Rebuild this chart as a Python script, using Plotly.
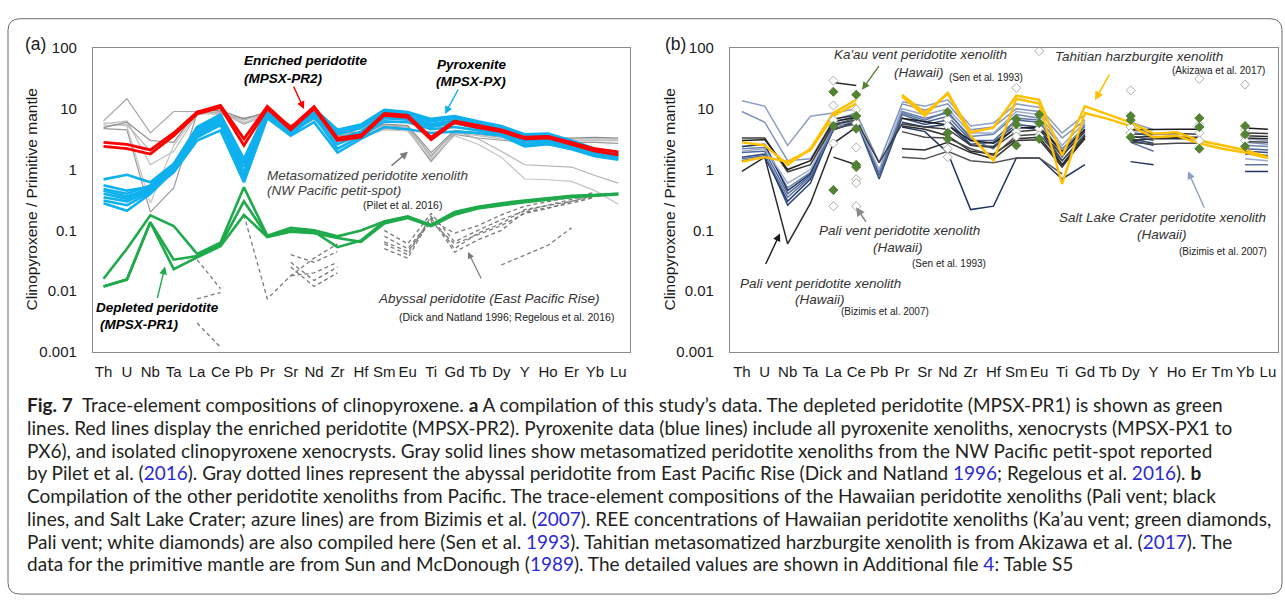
import plotly.graph_objects as go

W, H = 1285, 605


def px(x):
    return x / W


def py(y):
    return 1 - y / H


# ---------------- categories ----------------
ELEM_A = ["Th", "U", "Nb", "Ta", "La", "Ce", "Pb", "Pr", "Sr", "Nd", "Zr", "Hf", "Sm", "Eu",
          "Ti", "Gd", "Tb", "Dy", "Y", "Ho", "Er", "Yb", "Lu"]
ELEM_B = ["Th", "U", "Nb", "Ta", "La", "Ce", "Pb", "Pr", "Sr", "Nd", "Zr", "Hf", "Sm", "Eu",
          "Ti", "Gd", "Tb", "Dy", "Y", "Ho", "Er", "Tm", "Yb", "Lu"]
TICK_VALS = [0.001, 0.01, 0.1, 1, 10, 100]
TICK_TEXT = ["0.001", "0.01", "0.1", "1", "10", "100"]

# ---------------- panel (a) ----------------
N = None
enriched = [
    [2.8, 2.6, 2.1, 4.0, 8.8, 11.3, 3.2, 10.9, 4.9, 10.8, 3.3, 3.7, 8.4, 7.8, 3.4, 6.3, 5.3, 4.5, 3.4, 3.5, 2.8, 2.2, 1.95],
    [2.4, 2.2, 1.8, 3.6, 8.2, 10.5, 2.5, 10.0, 4.5, 10.0, 3.0, 3.4, 7.8, 7.2, 3.1, 5.9, 4.9, 4.2, 3.2, 3.3, 2.6, 2.0, 1.75],
]
pyroxenite = [
    [0.69, 0.82, 0.62, 1.25, 5.0, 8.0, 1.5, 9.8, 4.7, 10.0, 4.5, 5.5, 9.6, 8.8, 6.8, 7.6, 6.2, 5.2, 3.8, 3.9, 3.0, 2.2, 1.9],
    [0.48, 0.40, 0.55, 1.15, 4.6, 7.0, 1.1, 9.0, 4.4, 9.0, 3.8, 4.8, 8.8, 8.2, 6.2, 7.0, 5.7, 4.8, 3.5, 3.6, 2.8, 2.1, 1.8],
    [0.40, 0.33, 0.48, 1.05, 4.0, 6.2, 0.9, 8.5, 4.2, 8.2, 3.2, 4.2, 8.0, 7.5, 5.6, 6.4, 5.2, 4.4, 3.2, 3.3, 2.6, 1.95, 1.7],
    [0.28, 0.21, 0.40, 0.95, 3.4, 5.4, 0.75, 7.8, 4.0, 7.2, 2.6, 3.8, 7.0, 6.6, 5.0, 5.8, 4.8, 4.1, 2.9, 3.0, 2.4, 1.8, 1.55],
    [0.45, 0.36, 0.50, 1.2, 4.4, 6.6, 0.65, 8.0, 3.8, 7.6, 2.2, 3.5, 6.2, 6.0, 4.6, 5.0, 4.4, 3.8, 2.6, 2.8, 2.3, 1.75, 1.5],
    [0.35, 0.30, 0.45, 0.9, 3.0, 4.4, 0.62, 7.0, 3.6, 6.0, 1.9, 3.2, 5.0, 4.6, 4.0, 4.2, 4.0, 3.6, 2.4, 2.6, 2.15, 1.65, 1.45],
    [0.55, 0.45, 0.52, 1.1, 4.8, 7.5, 1.3, 9.4, 4.6, 9.5, 4.2, 5.2, 9.2, 8.5, 6.5, 7.2, 5.9, 5.0, 3.6, 3.7, 2.9, 2.15, 1.85],
    [0.31, 0.26, 0.42, 1.0, 3.7, 5.9, 0.85, 8.2, 4.1, 8.0, 3.0, 4.0, 7.6, 7.0, 5.3, 6.1, 5.0, 4.3, 3.0, 3.1, 2.5, 1.85, 1.6],
]
metasomatized = [
    [6.3, 14.6, 4.0, 9.0, 9.0, 8.0, 7.0, 8.5, 5.2, 7.6, 4.0, 4.0, 5.2, 5.0, 1.7, 4.2, 3.8, 3.4, 3.2, 3.3, 3.2, 3.2, 3.2],
    [5.6, 6.3, 1.2, 2.0, 8.0, 9.0, 6.0, 8.0, 5.0, 7.0, 3.8, 3.8, 5.0, 4.8, 1.4, 4.0, 3.6, 3.2, 3.0, 3.1, 3.0, 3.0, 3.0],
    [4.7, 4.5, 0.2, 0.5, 8.5, 8.8, 5.6, 7.8, 4.6, 6.8, 3.6, 3.6, 4.7, 4.5, 1.35, 3.8, 3.3, 3.0, 2.8, 2.9, 2.8, 2.8, 2.7],
    [5.2, 5.5, 2.0, 3.5, 8.8, 8.6, 6.5, 8.2, 4.9, 7.3, 3.9, 3.9, 5.4, 5.2, 1.6, 4.3, 3.2, 2.0, 1.2, 1.15, 1.1, 0.8, 0.6],
    [5.9, 5.2, 0.28, 2.5, 8.2, 8.3, 5.8, 7.6, 4.4, 6.5, 3.4, 3.4, 4.5, 4.3, 1.5, 3.6, 2.6, 1.6, 0.7, 0.68, 0.64, 0.45, 0.27],
    [4.9, 6.0, 3.0, 2.8, 9.2, 9.4, 6.8, 8.8, 5.4, 7.8, 4.2, 4.1, 5.6, 5.3, 1.9, 4.4, 4.0, 3.6, 3.3, 3.4, 3.3, 3.4, 3.3],
]
depleted = [
    [0.016, 0.05, 0.177, 0.118, 0.041, 0.063, 0.51, 0.082, 0.11, 0.10, 0.08, 0.10, 0.14, 0.17, 0.123, 0.2, 0.245, 0.28, 0.31, 0.34, 0.37, 0.38, 0.40],
    [0.012, 0.0157, 0.137, 0.033, 0.038, 0.058, 0.30, 0.08, 0.10, 0.095, 0.053, 0.068, 0.14, 0.165, 0.12, 0.19, 0.24, 0.27, 0.30, 0.33, 0.36, 0.38, 0.40],
    [0.012, 0.0155, 0.135, 0.023, 0.036, 0.055, 0.18, 0.078, 0.095, 0.09, 0.075, 0.065, 0.13, 0.16, 0.118, 0.18, 0.23, 0.26, 0.29, 0.32, 0.35, 0.37, 0.39],
]
abyssal = [
    [N, N, N, N, 0.033, 0.011, N, N, N, N, N, N, N, N, N, N, N, N, N, N, N, N, N],
    [N, N, N, N, 0.0075, 0.0095, N, N, N, N, N, N, N, N, N, N, N, N, N, N, N, N, N],
    [N, N, N, N, 0.003, 0.0012, N, N, N, N, N, N, N, N, N, N, N, N, N, N, N, N, N],
    [N, N, N, N, N, N, 0.18, 0.0075, 0.018, 0.035, 0.06, N, 0.06, 0.04, 0.17, 0.05, 0.09, 0.13, 0.22, 0.26, 0.30, 0.38, N],
    [N, N, N, N, N, N, N, N, 0.04, 0.03, 0.045, N, 0.08, 0.05, 0.15, 0.09, 0.12, 0.18, 0.25, 0.30, 0.35, 0.42, N],
    [N, N, N, N, N, N, N, N, 0.025, 0.012, 0.02, N, 0.05, 0.035, 0.16, 0.044, 0.07, 0.10, 0.20, 0.24, 0.28, 0.35, N],
    [N, N, N, N, N, N, N, N, 0.018, 0.02, 0.03, N, 0.10, 0.06, 0.19, 0.065, 0.10, 0.15, 0.21, 0.26, 0.32, 0.40, N],
    [N, N, N, N, N, N, N, N, 0.03, 0.015, 0.025, N, 0.065, 0.045, 0.14, 0.06, 0.085, 0.12, 0.19, 0.23, 0.30, 0.36, N],
    [N, N, N, N, N, N, N, N, N, N, N, N, N, N, N, N, N, 0.027, 0.039, 0.057, 0.11, N, N],
]

# ---------------- panel (b) ----------------
tahiti = [
    [2.8, 2.5, 1.2, 2.2, 8.5, 14.0, N, 15.8, 7.6, 18.3, 4.1, 4.9, 16.4, 14.0, 1.7, 11.0, 8.1, 5.9, 3.9, 4.1, 3.0, 2.5, 2.1, 1.6],
    [1.35, 1.6, 1.35, 2.1, 7.6, 12.2, N, 17.0, 8.5, 17.6, 3.6, 1.4, 14.6, 12.2, 0.58, 8.5, 6.8, 5.2, 3.4, 3.6, 2.7, 2.2, 1.9, 1.55],
]
pali_bizimis = [
    [0.93, 1.6, 0.06, 0.28, 2.7, 5.0, N, 5.2, 4.6, 3.6, 2.0, 1.8, 3.2, 3.4, 1.2, 3.2, N, 3.4, 3.5, 3.4, 3.4, N, 3.6, 3.5],
    [3.3, 3.3, 0.92, 1.2, 5.5, 6.5, 1.3, 5.6, 5.0, 4.6, 2.5, 2.3, 4.2, 4.5, 1.7, 4.2, N, 3.8, 3.9, 3.9, 3.8, N, 4.0, 3.9],
    [3.0, 3.1, 1.0, 1.4, 6.2, 7.2, N, 7.0, 6.2, 5.4, 3.0, 2.7, 4.8, 5.0, 2.0, 4.6, N, 4.5, 4.6, 4.6, 4.6, N, 4.8, 4.6],
    [N, N, N, N, 4.5, 6.0, N, 4.2, 3.4, 3.3, 2.2, 1.7, 3.6, 3.8, 1.4, 3.6, N, 2.8, 2.6, 2.7, 2.7, N, 2.9, 2.8],
    [N, N, N, N, 6.8, 7.8, N, 2.2, 2.1, 2.8, 1.9, 1.5, 3.0, 3.1, 1.1, 3.4, N, 3.0, 3.2, 3.2, 3.2, N, 3.3, 3.2],
    [N, N, N, N, N, N, N, 1.6, 1.5, 2.0, 1.4, 1.3, 1.55, 1.55, 0.85, N, N, N, N, N, N, N, N, N],
    [N, N, N, N, 27.0, 24.0, N, N, N, N, N, N, N, N, N, N, N, N, N, N, N, N, N, N],
    [N, N, N, N, 1.6, 1.2, N, N, N, N, N, N, N, N, N, N, N, N, N, N, N, N, N, N],
]
salt_lake = [
    [13.5, 11.0, 2.5, 7.5, 8.5, 10.0, N, 13.0, 11.0, 14.0, 5.2, 5.8, 12.0, 10.5, 4.0, 8.0, N, 6.0, 4.5, N, 4.2, N, 3.2, 3.0],
    [9.0, 6.0, 1.4, 1.5, 6.5, 8.5, 1.3, 12.0, 9.5, 12.0, 4.5, 5.0, 10.0, 9.0, 3.3, 6.5, N, 5.0, 3.8, N, 3.5, N, 2.8, 2.6],
    [2.2, 2.3, 0.5, 0.9, 6.0, 7.5, 0.9, 9.0, 7.0, 8.5, 3.5, 3.8, 8.0, 7.0, 2.2, 5.0, N, 4.2, 3.4, N, 3.2, N, 2.5, 2.4],
    [1.9, 2.0, 0.4, 0.8, 5.5, 7.0, 0.8, 8.0, 6.0, 7.5, 3.0, 3.0, 6.5, 6.0, 1.9, 4.5, N, 3.6, 3.0, N, 2.8, N, 2.2, 2.1],
    [1.6, 1.8, 0.26, 0.6, 5.0, 6.2, 0.7, 7.0, 5.5, 6.5, 2.6, 2.8, 5.5, 5.0, 1.4, 3.8, N, 3.2, 2.7, N, 2.6, N, 2.0, 1.9],
    [1.4, 1.6, 0.3, 0.7, 4.5, 6.0, N, 6.0, 5.0, 5.5, 2.5, 2.4, 5.0, 4.6, 1.2, 3.6, N, 3.0, 2.5, N, 2.5, N, 1.8, 1.7],
    [2.4, 2.6, 0.45, 0.85, 5.3, 5.8, N, 5.0, 4.2, 1.9, 0.22, 0.25, 1.55, 1.55, 0.7, 1.2, N, 1.35, 1.2, N, 1.1, N, 0.93, 0.93],
    [2.0, 2.2, 0.6, 1.0, 5.0, 6.5, 1.0, 10.0, 8.0, 10.0, 4.0, 4.0, 9.0, 8.0, 2.5, 6.0, N, 4.5, 3.8, N, 3.6, N, 1.5, 1.4],
    [1.5, 1.7, 0.35, 0.75, 4.8, 5.5, N, 8.5, 6.5, 9.0, 3.2, 2.2, 7.0, 6.5, 1.6, 5.5, N, 2.8, 2.0, N, 1.7, N, 1.2, 1.2],
]
salt_lake_colors = ["#8ea0c4", "#7f93bb", "#6c82b0", "#4f6796", "#344d7e", "#223a6a", "#1f3560", "#9aaacb", "#5d74a3"]
pali_colors = ["#2b2b2b", "#3c3c3c", "#1e1e1e", "#4a4a4a", "#303030", "#555555", "#2a2a2a", "#2a2a2a"]

kaau_elem = ["La", "La", "La", "Ce", "Ce", "Ce", "Ce", "Ce", "Nd", "Nd", "Nd", "Sm", "Sm", "Sm",
             "Eu", "Eu", "Eu", "Dy", "Dy", "Dy", "Er", "Er", "Er", "Yb", "Yb", "Yb"]
kaau_val = [19, 5.2, 0.46, 17, 7.6, 4.7, 1.2, 1.1, 8.8, 4.0, 3.2, 6.7, 5.5, 2.5,
            8.0, 5.8, 3.2, 7.6, 6.5, 3.4, 7.0, 5.0, 2.2, 5.2, 3.8, 2.4]
pali_sen_elem = ["La", "La", "La", "La", "La", "Ce", "Ce", "Ce", "Ce", "Ce", "Ce", "Nd", "Nd", "Nd", "Nd",
                 "Sm", "Sm", "Sm", "Sm", "Eu", "Eu", "Eu", "Dy", "Dy", "Dy", "Er", "Er", "Er", "Er",
                 "Yb", "Yb", "Yb", "Yb"]
pali_sen_val = [29, 11.3, 6.5, 2.7, 0.25, 9.7, 5.8, 2.3, 0.69, 0.6, 0.25, 6.7, 5.2, 2.2, 1.6,
                22, 5.0, 4.2, 3.5, 89, 4.7, 3.6, 20, 5.0, 4.0, 31, 5.5, 4.0, 3.0,
                25, 4.5, 3.6, 3.0]

# ---------------- figure ----------------
fig = go.Figure()


def add_lines(series, elems, color, width, xa, ya, dash="solid"):
    for i, s in enumerate(series):
        c = color[i % len(color)] if isinstance(color, list) else color
        fig.add_trace(go.Scatter(x=elems, y=s, mode="lines", xaxis=xa, yaxis=ya,
                                 line=dict(color=c, width=width, dash=dash),
                                 connectgaps=False, hoverinfo="skip", showlegend=False))


# panel a
add_lines(abyssal, ELEM_A, "#7a7a7a", 1.3, "x", "y", dash="4px,3px")
add_lines(metasomatized, ELEM_A, ["#a6a6a6", "#bdbdbd", "#9a9a9a", "#b3b3b3", "#c4c4c4", "#8f8f8f"], 1.2, "x", "y")
add_lines(depleted, ELEM_A, "#1faa4b", 2.6, "x", "y")
add_lines(pyroxenite, ELEM_A, "#0fb0ee", 2.6, "x", "y")
add_lines(enriched, ELEM_A, "#ff0000", 2.8, "x", "y")

# panel b
add_lines(salt_lake, ELEM_B, salt_lake_colors, 1.5, "x2", "y2")
add_lines(pali_bizimis, ELEM_B, pali_colors, 1.5, "x2", "y2")
add_lines(tahiti, ELEM_B, "#ffc000", 2.4, "x2", "y2")
fig.add_trace(go.Scatter(x=pali_sen_elem, y=pali_sen_val, mode="markers", xaxis="x2", yaxis="y2",
                         marker=dict(symbol="diamond", size=7, color="white",
                                     line=dict(color="#a9b0a4", width=1)),
                         hoverinfo="skip", showlegend=False))
fig.add_trace(go.Scatter(x=kaau_elem, y=kaau_val, mode="markers", xaxis="x2", yaxis="y2",
                         marker=dict(symbol="diamond", size=7, color="#548235",
                                     line=dict(color="#548235", width=1)),
                         hoverinfo="skip", showlegend=False))

AX_FONT = dict(family="Liberation Sans, Arial, sans-serif", size=15, color="#1a1a1a")
common_x = dict(type="category", categoryorder="array", showline=True, mirror=True,
                linecolor="#8c8c8c", linewidth=1.3, showgrid=False, zeroline=False,
                ticks="", tickfont=AX_FONT, ticklabelstandoff=6)
common_y = dict(type="log", range=[-3, 2], tickvals=TICK_VALS, ticktext=TICK_TEXT,
                showline=True, mirror=True, linecolor="#8c8c8c", linewidth=1.3,
                showgrid=False, zeroline=False, ticks="", tickfont=AX_FONT,
                ticklabelstandoff=12)

fig.update_layout(
    width=W, height=H, margin=dict(l=0, r=0, t=0, b=0),
    paper_bgcolor="white", plot_bgcolor="white", showlegend=False,
    xaxis=dict(common_x, domain=[px(93), px(630)], anchor="y", categoryarray=ELEM_A,
               range=[-0.45, 22.5]),
    yaxis=dict(common_y, domain=[py(353), py(40)], anchor="x"),
    xaxis2=dict(common_x, domain=[px(730), px(1278)], anchor="y2", categoryarray=ELEM_B,
                range=[-0.52, 23.44]),
    yaxis2=dict(common_y, domain=[py(353), py(40)], anchor="x2"),
)

ann = []
SANS = "Liberation Sans, Arial, sans-serif"


def label(text, x, y, size=13.5, color="#000000", anchor="center"):
    ann.append(dict(text=text, x=px(x), y=py(y), xref="paper", yref="paper",
                    xanchor=anchor, yanchor="middle", showarrow=False,
                    font=dict(family=SANS, size=size, color=color)))


def arrow(tail, tip, color, width=1.4):
    ann.append(dict(text="", x=px(tip[0]), y=py(tip[1]), xref="paper", yref="paper",
                    ax=tail[0] - tip[0], ay=tail[1] - tip[1], showarrow=True,
                    arrowhead=2, arrowsize=1.1, arrowwidth=width, arrowcolor=color))


# panel labels and y titles
label("(a)", 35, 36, size=17.5, color="#1a1a1a")
label("(b)", 675, 36, size=17.5, color="#1a1a1a")
for xt in (31, 669):
    ann.append(dict(text="Clinopyroxene / Primitive mantle", x=px(xt), y=py(196),
                    xref="paper", yref="paper", textangle=-90, showarrow=False,
                    xanchor="center", yanchor="middle",
                    font=dict(family=SANS, size=15.5, color="#1a1a1a")))

# panel a annotations
label("<b><i>Enriched peridotite</i></b>", 242, 53, anchor="left")
label("<b><i>(MPSX-PR2)</i></b>", 242, 71, anchor="left")
arrow((293, 79), (304, 103), "#ff0000")
label("<b><i>Pyroxenite</i></b>", 472, 57)
label("<b><i>(MPSX-PX)</i></b>", 471, 75)
arrow((459, 82), (445, 108), "#0fb0ee")
label("<i>Metasomatized peridotite xenolith</i>", 265, 171, color="#404040", anchor="left")
label("<i>(NW Pacific petit-spot)</i>", 265, 187, color="#404040", anchor="left")
label("(Pilet et al. 2016)", 402, 202, size=10.5, color="#222222")
arrow((390, 162), (408, 147), "#7a7a7a")
label("<b><i>Depleted peridotite</i></b>", 94, 307, anchor="left")
label("<b><i>(MPSX-PR1)</i></b>", 98, 325, anchor="left")
arrow((157, 298), (165, 265), "#1faa4b")
label("<i>Abyssal peridotite (East Pacific Rise)</i>", 489, 298, color="#333333")
label("(Dick and Natland 1996; Regelous et al. 2016)", 506, 317, size=10.5, color="#222222")
arrow((482, 278), (468, 250), "#7a7a7a", width=1.2)

# panel b annotations
label("<i>Ka'au vent peridotite xenolith</i>", 920, 47, color="#333333")
label("<i>(Hawaii)</i>", 919, 65, color="#333333")
label("(Sen et al. 1993)", 947, 70, size=10, color="#222222", anchor="left")
arrow((880, 58), (862, 83), "#548235")
label("<i>Tahitian harzburgite xenolith</i>", 1139, 49, color="#333333")
label("(Akizawa et al. 2017)", 1267, 63, size=10, color="#222222", anchor="right")
arrow((1110, 67), (1095, 94), "#ffc000", width=1.6)
label("<i>Pali vent peridotite xenolith</i>", 900, 228, color="#333333")
label("<i>(Hawaii)</i>", 898, 245, color="#333333")
label("(Sen et al. 1993)", 910, 262, size=10, color="#222222", anchor="left")
arrow((867, 220), (856, 204), "#8a8a8a", width=1.6)
label("<i>Pali vent peridotite xenolith</i>", 821, 282, color="#333333")
label("<i>(Hawaii)</i>", 820, 299, color="#333333")
label("(Bizimis et al. 2007)", 839, 311, size=10, color="#222222", anchor="left")
arrow((765, 263), (780, 231), "#1a1a1a")
label("<i>Salt Lake Crater peridotite xenolith</i>", 1162, 215, color="#333333")
label("<i>(Hawaii)</i>", 1162, 232, color="#333333")
label("(Bizimis et al. 2007)", 1269, 250, size=10, color="#222222", anchor="right")
arrow((1205, 205), (1188, 167), "#8ea0c4")

# caption
LINK = "#2a2ad6"


def lk(t):
    return f'<span style="color:{LINK}">{t}</span>'


caption_lines = [
    "<b>Fig. 7</b>\u00a0\u00a0Trace-element compositions of clinopyroxene. <b>a</b> A compilation of this study\u2019s data. The depleted peridotite (MPSX-PR1) is shown as green",
    "lines. Red lines display the enriched peridotite (MPSX-PR2). Pyroxenite data (blue lines) include all pyroxenite xenoliths, xenocrysts (MPSX-PX1 to",
    "PX6), and isolated clinopyroxene xenocrysts. Gray solid lines show metasomatized peridotite xenoliths from the NW Pacific petit-spot reported",
    f"by Pilet et al. ({lk('2016')}). Gray dotted lines represent the abyssal peridotite from East Pacific Rise (Dick and Natland {lk('1996')}; Regelous et al. {lk('2016')}). <b>b</b>",
    "Compilation of the other peridotite xenoliths from Pacific. The trace-element compositions of the Hawaiian peridotite xenoliths (Pali vent; black",
    f"lines, and Salt Lake Crater; azure lines) are from Bizimis et al. ({lk('2007')}). REE concentrations of Hawaiian peridotite xenoliths (Ka\u2019au vent; green diamonds,",
    f"Pali vent; white diamonds) are also compiled here (Sen et al. {lk('1993')}). Tahitian metasomatized harzburgite xenolith is from Akizawa et al. ({lk('2017')}). The",
    f"data for the primitive mantle are from Sun and McDonough ({lk('1989')}). The detailed values are shown in Additional file {lk('4')}: Table S5",
]
for i, t in enumerate(caption_lines):
    ann.append(dict(text=t, x=px(25), y=py(407 + 23.4 * i), xref="paper", yref="paper",
                    xanchor="left", yanchor="middle", showarrow=False,
                    font=dict(family="Lato, Open Sans, sans-serif", size=19.0, color="#231f20")))

fig.update_layout(annotations=ann)

# rounded outer frame
x0, x1, y0, y1, r = 8, 1282, 10, 602, 12
path = (f"M {px(x0 + r)},{py(y0)} L {px(x1 - r)},{py(y0)} Q {px(x1)},{py(y0)} {px(x1)},{py(y0 + r)} "
        f"L {px(x1)},{py(y1 - r)} Q {px(x1)},{py(y1)} {px(x1 - r)},{py(y1)} "
        f"L {px(x0 + r)},{py(y1)} Q {px(x0)},{py(y1)} {px(x0)},{py(y1 - r)} "
        f"L {px(x0)},{py(y0 + r)} Q {px(x0)},{py(y0)} {px(x0 + r)},{py(y0)} Z")
fig.add_shape(type="path", path=path, xref="paper", yref="paper",
              line=dict(color="#6d6d6d", width=1), layer="below")

fig.write_html("out.html")
